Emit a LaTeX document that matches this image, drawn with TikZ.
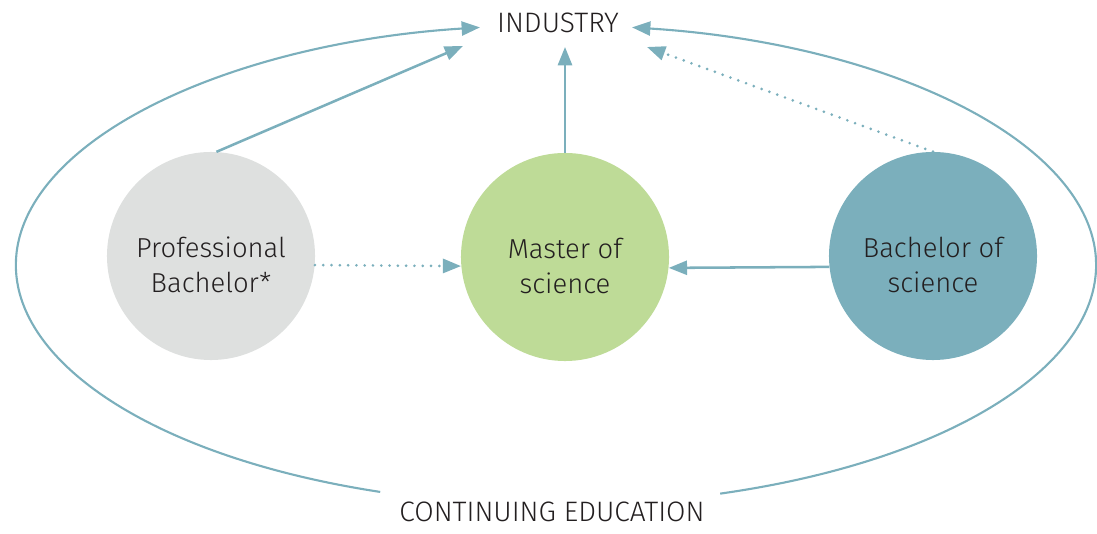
\documentclass[tikz,border=0pt]{standalone}
\usepackage{fontspec}
\setmainfont{Fira Sans}[UprightFont=* Light]
\usetikzlibrary{arrows.meta}
\definecolor{tealline}{RGB}{123,175,188}
\definecolor{leafgreen}{RGB}{190,219,151}
\definecolor{palegrey}{RGB}{222,224,223}
\definecolor{inkdark}{RGB}{35,31,32}
\tikzstyle{school} = [
 circle,
 minimum size = 5.2cm,
 inner sep = 0pt,
 align = center,
 text = inkdark,
 text height = 52pt,
 text depth = 0pt,
 font = \fontsize{19.5}{25}\selectfont
]
\tikzstyle{banner} = [
 inner sep = 2pt,
 text = inkdark,
 font = \fontsize{20}{25}\selectfont
]
\tikzstyle{flow} = [
 draw = tealline,
 line width = 1.8pt,
 -{Triangle[length=13pt,width=10pt]}
]
\tikzstyle{maybe} = [
 flow,
 line width = 2.1pt,
 line cap = round,
 dash pattern = on 0pt off 5.9pt
]
\tikzstyle{orbit} = [
 flow,
 line width = 1.5pt
]

\begin{document}
\begin{tikzpicture}[x=0.025cm, y=0.025cm]
  \useasboundingbox (0,0) rectangle (1097,533);
  \node [banner] (ind) at (558,510) {INDUSTRY};
  \node [banner] (cont) at (552,21) {CONTINUING EDUCATION};
  \node [school, fill=palegrey] (pb) at (211,277) {Professional\\Bachelor*};
  \node [school, fill=leafgreen] (ms) at (565,276) {Master of\\science};
  \node [school, fill=tealline] (bs) at (933,277) {Bachelor of\\science};
  \coordinate (mid) at (556,268);
  \coordinate (pbtip) at (463,487);
  \coordinate (mstip) at (565,486);
  \coordinate (bstip) at (647,486);
  % into industry
  \draw [flow] (pb.87) -- (pbtip);
  \draw [flow] (ms.north) -- (mstip);
  \draw [maybe] (bs.north) -- (bstip);
  % into the master
  \draw [maybe] (pb.-5) -- (ms.185);
  \draw [flow] (bs.186) -- (ms.-6);
  % continuing education
  \draw [orbit] (mid) ++(251:540 and 240)
    arc [start angle=251, end angle=98.1, x radius=540, y radius=240];
  \draw [orbit] (mid) ++(-72.3:540 and 240)
    arc [start angle=-72.3, end angle=81.9, x radius=540, y radius=240];
\end{tikzpicture}
\end{document}
